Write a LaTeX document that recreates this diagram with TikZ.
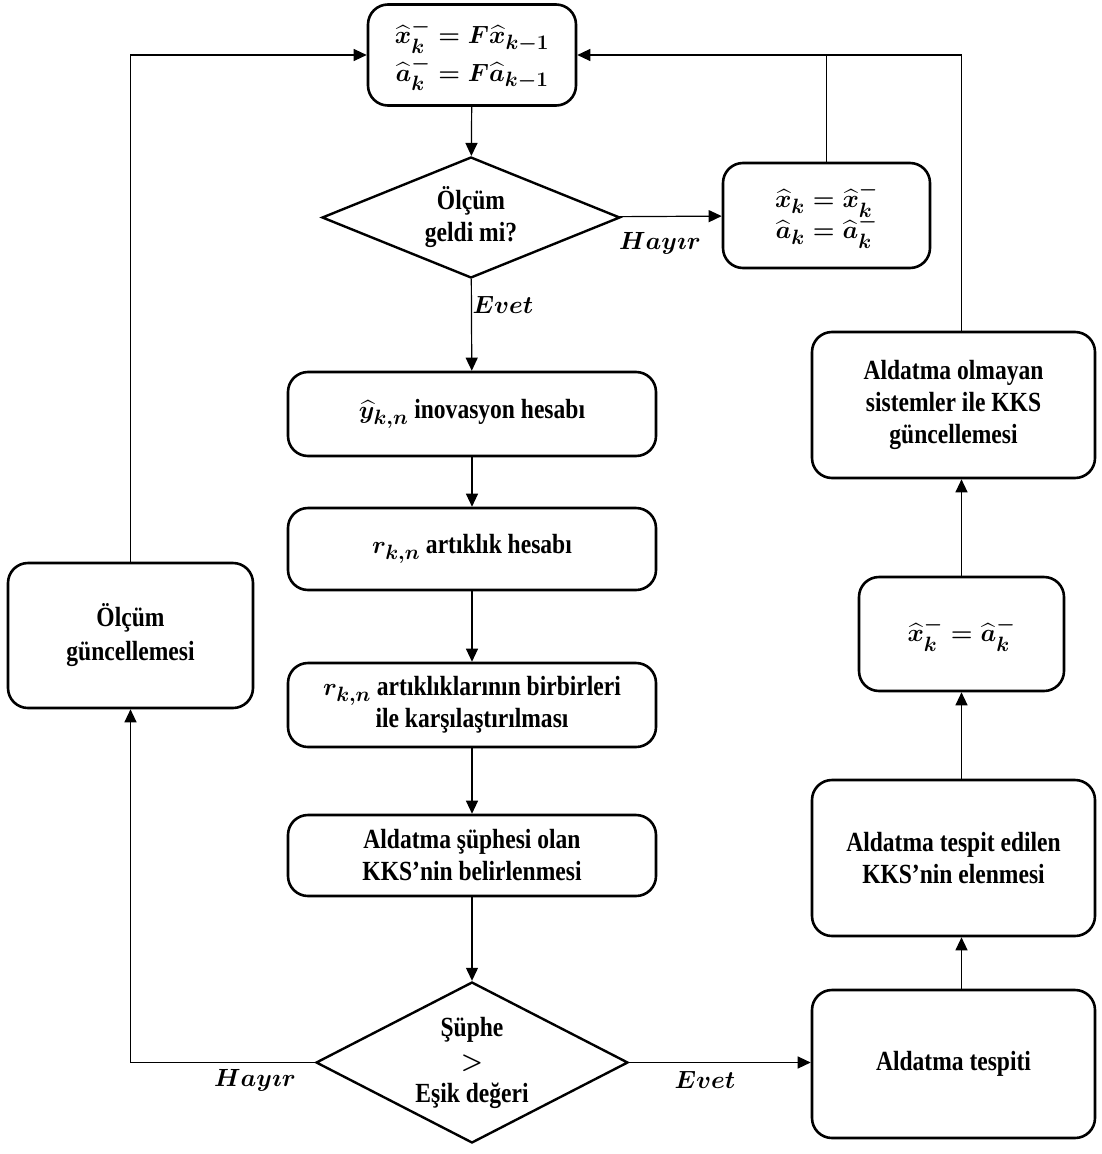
\documentclass[tikz,border=0pt]{standalone}
\usepackage{fontspec}
\setmainfont{Liberation Serif}[FakeStretch=0.85]
\usepackage{amsmath}
\usetikzlibrary{shapes.geometric,arrows.meta}
\newcommand\txtfont{\bfseries\boldmath\fontsize{27.7}{32}\selectfont}
\newcommand\lblfont{\boldmath\fontsize{24}{28}\selectfont}
\tikzset{
  box/.style={draw, line width=2.6pt, rounded corners=20pt, inner sep=0pt, align=center, font=\txtfont},
  dia/.style={draw, diamond, line width=2.4pt, inner sep=0pt, align=center, font=\txtfont},
  conn/.style={line width=1.2pt, -{Triangle[length=13pt,width=12pt]}},
  plainline/.style={line width=1.2pt},
  lab/.style={font=\lblfont, inner sep=0pt}
}
\begin{document}
\begin{tikzpicture}[x=1pt,y=-1pt]
\useasboundingbox[fill=white] (0,0) rectangle (1101,1154);
% nodes
\node[box, minimum width=208pt, minimum height=101pt] (top) at (472,55)
  {$\widehat{x}_k^- = F\widehat{x}_{k-1}$\\[2pt]$\widehat{a}_k^- = F\widehat{a}_{k-1}$};
\node[dia, aspect=2.46, minimum width=298pt, minimum height=121pt] (d1) at (471,217.5) {Ölçüm\\geldi mi?};
\node[box, minimum width=207pt, minimum height=105pt] (r1) at (826.5,215.5)
  {$\widehat{x}_k = \widehat{x}_k^-$\\[-4pt]$\widehat{a}_k = \widehat{a}_k^-$};
\node[box, minimum width=368pt, minimum height=84pt] (inov) at (472,414) {$\widehat{y}_{k,n}$ inovasyon hesabı};
\node[box, minimum width=368pt, minimum height=82pt] (art) at (472,549) {$r_{k,n}$ artıklık hesabı};
\node[box, minimum width=368pt, minimum height=84pt] (kars) at (472,705) {$r_{k,n}$ artıklıklarının birbirleri\\ile karşılaştırılması};
\node[box, minimum width=368pt, minimum height=81pt] (sup) at (472,855.5) {Aldatma şüphesi olan\\KKS’nin belirlenmesi};
\node[dia, aspect=1.94, minimum width=312pt, minimum height=161pt] (d2) at (472,1062.5) {Şüphe\\[1pt]{\mdseries$>$}\\[1pt]Eşik değeri};
\node[box, minimum width=245pt, minimum height=145pt] (olc) at (130.5,635.5) {Ölçüm\\[2pt]güncellemesi};
\node[box, minimum width=283pt, minimum height=148pt] (tesp) at (953.5,1064) {Aldatma tespiti};
\node[box, minimum width=283pt, minimum height=156pt] (teed) at (953.5,858) {Aldatma tespit edilen\\KKS’nin elenmesi};
\node[box, minimum width=205pt, minimum height=114pt] (xa) at (961.5,634) {$\widehat{x}_k^- = \widehat{a}_k^-$};
\node[box, minimum width=283pt, minimum height=146pt] (olm) at (953.5,405) {Aldatma olmayan\\sistemler ile KKS\\güncellemesi};
% connectors
\draw[conn] (top) -- (d1);
\draw[conn] (d1) -- (r1);
\draw[conn] (r1.north) |- (top.east);
\draw[plainline] (olm.north -| xa.north) |- (r1.north |- top.east);
\draw[conn] (olc.north) |- (top.west);
\draw[conn] (d1) -- (inov);
\draw[conn] (inov) -- (art);
\draw[conn] (art) -- (kars);
\draw[conn] (kars) -- (sup);
\draw[conn] (sup) -- (d2);
\draw[conn] (d2.west) -| (olc.south);
\draw[conn] (d2.east) -- (d2.east -| tesp.west);
\draw[conn] (tesp.north -| xa.south) -- (teed.south -| xa.south);
\draw[conn] (teed.north -| xa.south) -- (xa.south);
\draw[conn] (xa.north) -- (olm.south -| xa.north);
% labels
\node[lab] (l1) at (660,243) {$Hay\imath r$};
\node[lab] (l2) at (503,305) {$Evet$};
\node[lab] (l3) at (255,1080) {$Hay\imath r$};
\node[lab] (l4) at (705,1080) {$Evet$};
\end{tikzpicture}
\end{document}
